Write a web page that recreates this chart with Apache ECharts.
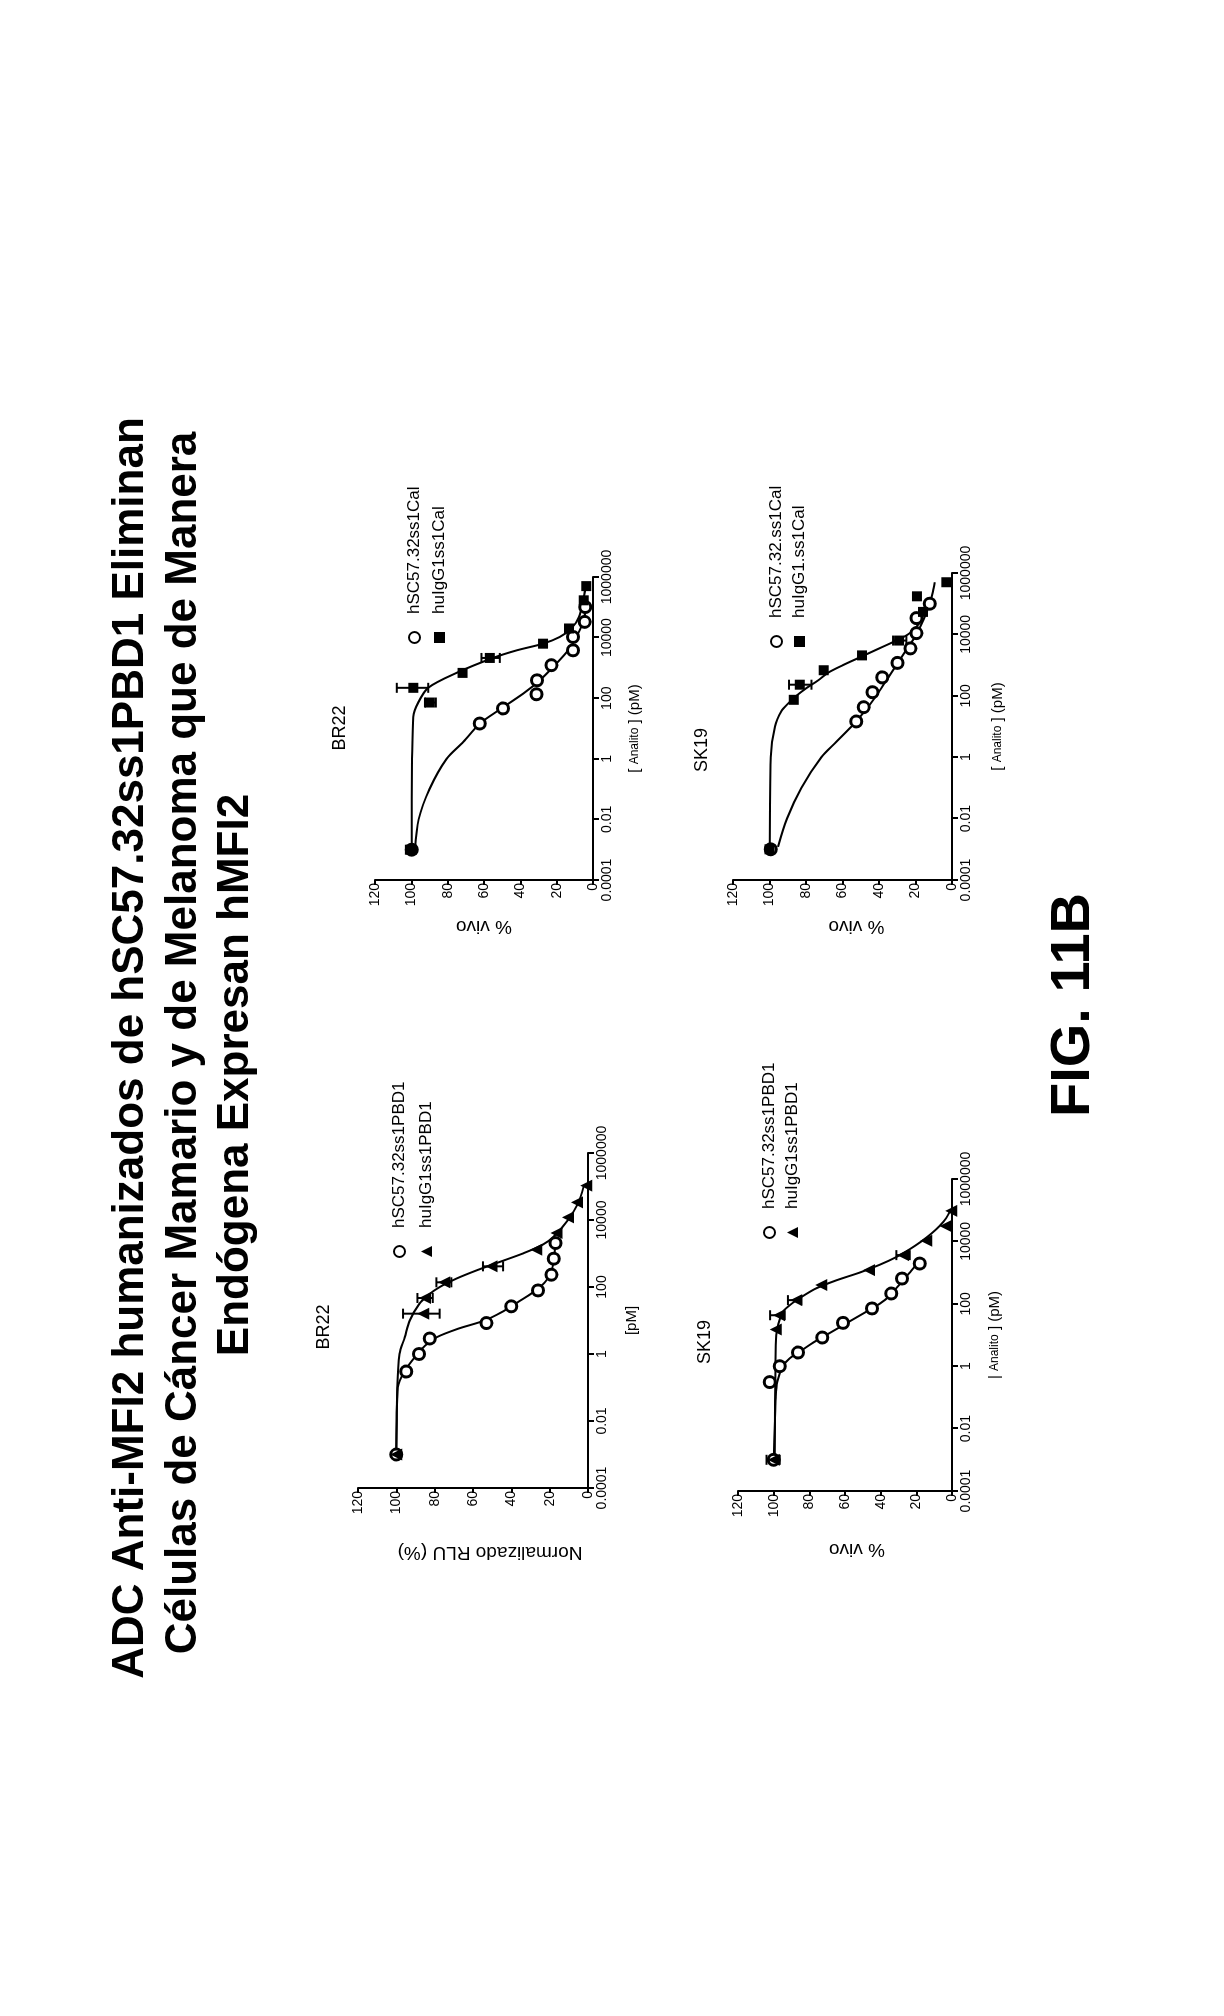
<!DOCTYPE html>
<html>
<head>
<meta charset="utf-8">
<title>FIG. 11B</title>
<script src="https://cdn.jsdelivr.net/npm/echarts@6/dist/echarts.min.js"></script>
<style>
    html, body { margin: 0; padding: 0; background: #fff; width: 1224px; height: 2016px; overflow: hidden; }
    /* the figure is laid out landscape and turned a quarter turn, like the printed page */
    #chart { position: absolute; left: 0; top: 0; width: 2016px; height: 1224px;
             transform-origin: 0 0; transform: translate(0, 2016px) rotate(-90deg); }
</style>
</head>
<body>
<div id="chart"></div>
<script>
    'use strict';

    // Log axis ticks (pM), shared by the four panels
    const xTickExps = [-4, -2, 0, 2, 4, 6];
    const xTickLabels = ['0.0001', '0.01', '1', '100', '10000', '1000000'];

    // Title lines
    const titleLines = [
        'ADC Anti-MFI2 humanizados de hSC57.32ss1PBD1 Eliminan',
        'Células de Cáncer Mamario y de Melanoma que de Manera',
        'Endógena Expresan hMFI2'
    ];
    const panelTitles = ['BR22', 'BR22', 'SK19', 'SK19'];
    const figureLabel = 'FIG. 11B';

    // Panel 1: BR22, PBD1 conjugates, Normalizado RLU (%)
    const br22PbdNames = ['hSC57.32ss1PBD1', 'huIgG1ss1PBD1'];
    const br22PbdCircles = [[0.001, 100], [0.3, 94.8], [1, 88.2], [2.9, 82.6], [8.4, 53], [26.5, 40],
        [79, 26.1], [233, 19.1], [700, 17.9], [2050, 16.9]];
    const br22PbdTriangles = [[0.001, 100], [16, 86], [47, 85], [138, 75], [414, 50.4], [1300, 27],
        [4100, 16.5], [12000, 10.4], [33600, 5.7], [106000, 0.9]];
    const br22PbdTriangleErr = [[16, 77.4, 96.5], [47, 81, 89], [138, 71.3, 79.1], [414, 44.3, 54.8]];
    const br22PbdCircleFit = [[0.001, 100], [0.01, 99.8], [0.1, 99.2], [0.316, 95.5], [1, 89], [1.78, 85],
        [3.16, 79], [5.62, 68], [10, 54], [17.8, 45], [31.6, 38], [56.2, 31], [100, 25], [178, 21],
        [316, 19], [562, 18], [1000, 17.5], [2000, 17.2]];
    const br22PbdTriangleFit = [[0.001, 100], [0.1, 99.5], [1, 98.3], [3.16, 95.6], [10, 93], [31.6, 88],
        [56.2, 83.5], [100, 77.4], [178, 68.7], [316, 58], [562, 46], [1000, 34], [1780, 24],
        [3160, 18], [10000, 10.4], [31600, 5.2], [100000, 2.3]];

    // Panel 2: BR22, Cal conjugates, % vivo
    const br22CalNames = ['hSC57.32ss1Cal', 'huIgG1ss1Cal'];
    const br22CalCircles = [[0.001, 99.8], [14.6, 62.3], [46, 49.5], [135, 31.1], [390, 30.8], [1230, 22.9],
        [3800, 11], [10500, 11], [33000, 4.6], [102000, 4.2]];
    const br22CalSquares = [[0.001, 100], [72, 89.8], [220, 98.9], [684, 71.8], [2130, 56.8], [6300, 27.5],
        [20000, 13.2], [170000, 5.1], [500000, 3.7]];
    const br22CalSquareErr = [[0.001, 98, 103], [72, 86.5, 92.5], [220, 90.7, 108], [2130, 51.3, 61.4]];
    const br22CalCircleFit = [[0.001, 98], [0.01, 96], [0.1, 90], [1, 80.6], [3.6, 71.4], [14.6, 62.3],
        [46, 50.4], [141, 38.5], [390, 29.3], [1230, 21], [3800, 13.7], [10500, 9.2], [33000, 5.5],
        [100000, 3.7]];
    const br22CalSquareFit = [[0.001, 99.8], [1, 99.6], [24, 98.9], [72, 96.2], [220, 90.7], [690, 75],
        [2140, 55], [3800, 42], [6300, 27.5], [10500, 18.3], [20000, 11.9], [48000, 7.7],
        [170000, 5.5], [470000, 4]];

    // Panel 3: SK19, PBD1 conjugates, % vivo
    const sk19PbdNames = ['hSC57.32ss1PBD1', 'huIgG1ss1PBD1'];
    const sk19PbdCircles = [[0.001, 100], [0.31, 102.2], [1, 96.6], [2.75, 86.3], [8.3, 72.7], [24.5, 61.1],
        [71, 44.9], [214, 34], [645, 28], [1950, 18.1]];
    const sk19PbdTriangles = [[0.001, 100], [15, 98.9], [43, 97], [131, 87.3], [400, 73.3], [1200, 46.5],
        [3630, 27.5], [10500, 14.4], [31000, 3.6], [95000, 0.4]];
    const sk19PbdTriangleErr = [[0.001, 96.6, 104], [43, 93.8, 102], [131, 84.5, 92], [3630, 23.7, 31.2]];
    const sk19PbdCircleFit = [[0.001, 100], [0.01, 99.4], [0.1, 98.9], [0.316, 98], [1, 94.8], [1.78, 91],
        [3.16, 84.5], [5.62, 78], [10, 70.5], [17.8, 63], [31.6, 55.5], [56.2, 48], [100, 40.6],
        [178, 35], [316, 31.2], [562, 27.5], [1000, 23.7], [1780, 20], [2500, 18.1]];
    const sk19PbdTriangleFit = [[0.001, 99.4], [1, 99], [10, 98.5], [31.6, 96.6], [56.2, 94.8], [100, 90],
        [178, 83.5], [316, 76], [562, 65], [1000, 51.8], [1780, 40.6], [3160, 31.2], [5620, 23.7],
        [10000, 17.2], [17800, 11.6], [31600, 6.9], [56200, 3.2], [100000, 0.9]];

    // Panel 4: SK19, Cal conjugates, % vivo
    const sk19CalNames = ['hSC57.32.ss1Cal', 'huIgG1.ss1Cal'];
    const sk19CalCircles = [[0.001, 99.3], [14.6, 52.4], [42.6, 48.4], [131, 43.6], [398, 38.2], [1180, 29.9],
        [3500, 22.8], [11000, 19.5], [34000, 19.5], [100000, 12.2]];
    const sk19CalSquares = [[0.001, 100], [74, 86.7], [230, 83.4], [680, 70.3], [2070, 49.3], [6300, 29],
        [54000, 15.9], [174000, 19.2], [500000, 3.1]];
    const sk19CalSquareErr = [[230, 77, 89.3], [6300, 25, 32.3]];
    const sk19CalCircleFit = [[0.0012, 95.3], [0.01, 90.4], [0.1, 82.5], [1, 71.6], [3.16, 63.4], [10, 55.1],
        [31.6, 47.8], [100, 41.5], [316, 36], [1000, 30.5], [3160, 25], [10000, 19.5], [31600, 15.5],
        [100000, 12.2], [251000, 10.4], [500000, 9.5]];
    const sk19CalSquareFit = [[0.001, 99.9], [1, 99.3], [10, 97], [31.6, 93.5], [56.2, 89.8], [100, 85.3],
        [178, 79.8], [316, 73.4], [562, 67.9], [1000, 59.7], [1780, 50.6], [3160, 41.5], [5620, 32.3],
        [10000, 24.1], [17800, 19.5], [31600, 16.3]];

    const FONT = 'Liberation Sans, Arial, sans-serif';
    const BLACK = '#000';

    // Where each panel sits on the landscape sheet
    const panels = [
        {
            grid: { left: 528, top: 358, width: 335, height: 230 },
            title: { x: 689, y: 324 }, legend: { left: 753, top: 386, gap: 10 },
            xName: '[pM]', xGap: 36, yName: 'Normalizado RLU (%)', yGap: 55, yShift: 17,
            names: br22PbdNames, open: br22PbdCircles, solid: br22PbdTriangles, solidSymbol: 'triangle',
            err: br22PbdTriangleErr, openFit: br22PbdCircleFit, solidFit: br22PbdTriangleFit
        },
        {
            grid: { left: 1136, top: 375, width: 303, height: 218 },
            title: { x: 1288, y: 340 }, legend: { left: 1367, top: 401, gap: 8 },
            xName: '[ {a|Analito} ] (pM)', xGap: 34, yName: '% vivo', yGap: 37, yShift: 0,
            names: br22CalNames, open: br22CalCircles, solid: br22CalSquares, solidSymbol: 'rect',
            err: br22CalSquareErr, openFit: br22CalCircleFit, solidFit: br22CalSquareFit
        },
        {
            grid: { left: 525, top: 738, width: 312, height: 214 },
            title: { x: 674, y: 705 }, legend: { left: 772, top: 756, gap: 6 },
            xName: '| {a|Analito} ] (pM)', xGap: 35, yName: '% vivo', yGap: 49, yShift: 12,
            names: sk19PbdNames, open: sk19PbdCircles, solid: sk19PbdTriangles, solidSymbol: 'triangle',
            err: sk19PbdTriangleErr, openFit: sk19PbdCircleFit, solidFit: sk19PbdTriangleFit
        },
        {
            grid: { left: 1136, top: 733, width: 307, height: 219 },
            title: { x: 1266, y: 702 }, legend: { left: 1363, top: 763, gap: 6 },
            xName: '[ {a|Analito} ] (pM)', xGap: 38, yName: '% vivo', yGap: 37, yShift: 14,
            names: sk19CalNames, open: sk19CalCircles, solid: sk19CalSquares, solidSymbol: 'rect',
            err: sk19CalSquareErr, openFit: sk19CalCircleFit, solidFit: sk19CalSquareFit
        }
    ];

    /**
     * Maps a log axis tick value to its printed label.
     */
    function formatLogTick(value) {
        const exp = Math.round(Math.log10(value));
        const idx = xTickExps.indexOf(exp);
        return idx >= 0 ? xTickLabels[idx] : '';
    }

    /**
     * Draws a vertical error bar with caps.
     */
    function renderErrorBar(params, api) {
        const x = api.value(0);
        const low = api.coord([x, api.value(1)]);
        const high = api.coord([x, api.value(2)]);
        const cap = 5;
        const style = { stroke: BLACK, lineWidth: 2 };
        return {
            type: 'group',
            children: [
                { type: 'line', shape: { x1: low[0], y1: low[1], x2: high[0], y2: high[1] }, style: style },
                { type: 'line', shape: { x1: low[0] - cap, y1: low[1], x2: low[0] + cap, y2: low[1] }, style: style },
                { type: 'line', shape: { x1: high[0] - cap, y1: high[1], x2: high[0] + cap, y2: high[1] }, style: style }
            ]
        };
    }

    const option = {
        animation: false,
        backgroundColor: '#fff',
        textStyle: { fontFamily: FONT, color: BLACK },
        grid: [], xAxis: [], yAxis: [], legend: [], series: [], graphic: []
    };

    titleLines.forEach((line, i) => {
        const centers = [[968, 131], [973, 184], [941, 236]];
        option.graphic.push({
            type: 'text', x: centers[i][0], y: centers[i][1],
            style: { text: line, font: 'bold 44px ' + FONT, fill: BLACK, align: 'center', verticalAlign: 'middle' }
        });
    });
    option.graphic.push({
        type: 'text', x: 1011, y: 1074,
        style: { text: figureLabel, font: 'bold 56px ' + FONT, fill: BLACK, align: 'center', verticalAlign: 'middle' }
    });

    panels.forEach((p, i) => {
        option.grid.push(Object.assign({ containLabel: false }, p.grid));

        option.graphic.push({
            type: 'text', x: p.title.x, y: p.title.y,
            style: { text: panelTitles[i], font: '18px ' + FONT, fill: BLACK, align: 'center', verticalAlign: 'middle' }
        });

        option.xAxis.push({
            type: 'log', logBase: 10, gridIndex: i,
            min: 0.0001, max: 1000000, interval: 2,
            axisLine: { show: true, lineStyle: { color: BLACK, width: 2 } },
            axisTick: { show: true, length: 6, lineStyle: { color: BLACK, width: 2 } },
            minorTick: { show: false },
            splitLine: { show: false },
            axisLabel: { color: BLACK, fontSize: 14, fontFamily: FONT, margin: 7, formatter: formatLogTick },
            name: p.xName, nameLocation: 'middle', nameGap: p.xGap,
            nameTextStyle: { color: BLACK, fontSize: 15, fontFamily: FONT, rich: { a: { fontSize: 12, fontFamily: FONT, color: BLACK } } }
        });

        option.yAxis.push({
            type: 'value', gridIndex: i,
            min: 0, max: 120, interval: 20,
            axisLine: { show: true, lineStyle: { color: BLACK, width: 2 } },
            axisTick: { show: true, length: 5, lineStyle: { color: BLACK, width: 2 } },
            splitLine: { show: false },
            axisLabel: { color: BLACK, fontSize: 14, fontFamily: FONT, margin: 3 },
            name: p.yName, nameLocation: 'middle', nameGap: p.yGap,
            nameTextStyle: { color: BLACK, fontSize: 19, fontFamily: FONT, padding: [0, p.yShift * 2, 0, 0] }
        });

        // small square icon box, text pushed right with padding
        option.legend.push({
            data: p.names, orient: 'vertical', left: p.legend.left, top: p.legend.top,
            itemGap: p.legend.gap, itemWidth: 11, itemHeight: 11,
            selectedMode: false,
            textStyle: { fontSize: 17, fontFamily: FONT, color: BLACK, padding: [0, 0, 0, 13] }
        });

        const axes = { xAxisIndex: i, yAxisIndex: i };
        option.series.push(Object.assign({
            type: 'line', name: 'fitA' + i, data: p.openFit, smooth: 0.3, showSymbol: false, silent: true,
            lineStyle: { color: BLACK, width: 2 }, z: 2
        }, axes));
        option.series.push(Object.assign({
            type: 'line', name: 'fitB' + i, data: p.solidFit, smooth: 0.3, showSymbol: false, silent: true,
            lineStyle: { color: BLACK, width: 2 }, z: 2
        }, axes));
        option.series.push(Object.assign({
            type: 'custom', name: 'err' + i, data: p.err, renderItem: renderErrorBar,
            encode: { x: 0, y: [1, 2] }, z: 3, silent: true
        }, axes));
        option.series.push(Object.assign({
            type: 'scatter', name: p.names[0], data: p.open, symbol: 'circle', symbolSize: 11,
            itemStyle: { color: '#fff', borderColor: BLACK, borderWidth: 3, opacity: 1 }, z: 4
        }, axes));
        option.series.push(Object.assign({
            type: 'scatter', name: p.names[1], data: p.solid, symbol: p.solidSymbol,
            symbolSize: p.solidSymbol === 'rect' ? 10 : 12,
            itemStyle: { color: BLACK, opacity: 1 }, z: 5
        }, axes));
    });

    const chart = echarts.init(document.getElementById('chart'), null, { renderer: 'canvas' });
    chart.setOption(option);
</script>
</body>
</html>
